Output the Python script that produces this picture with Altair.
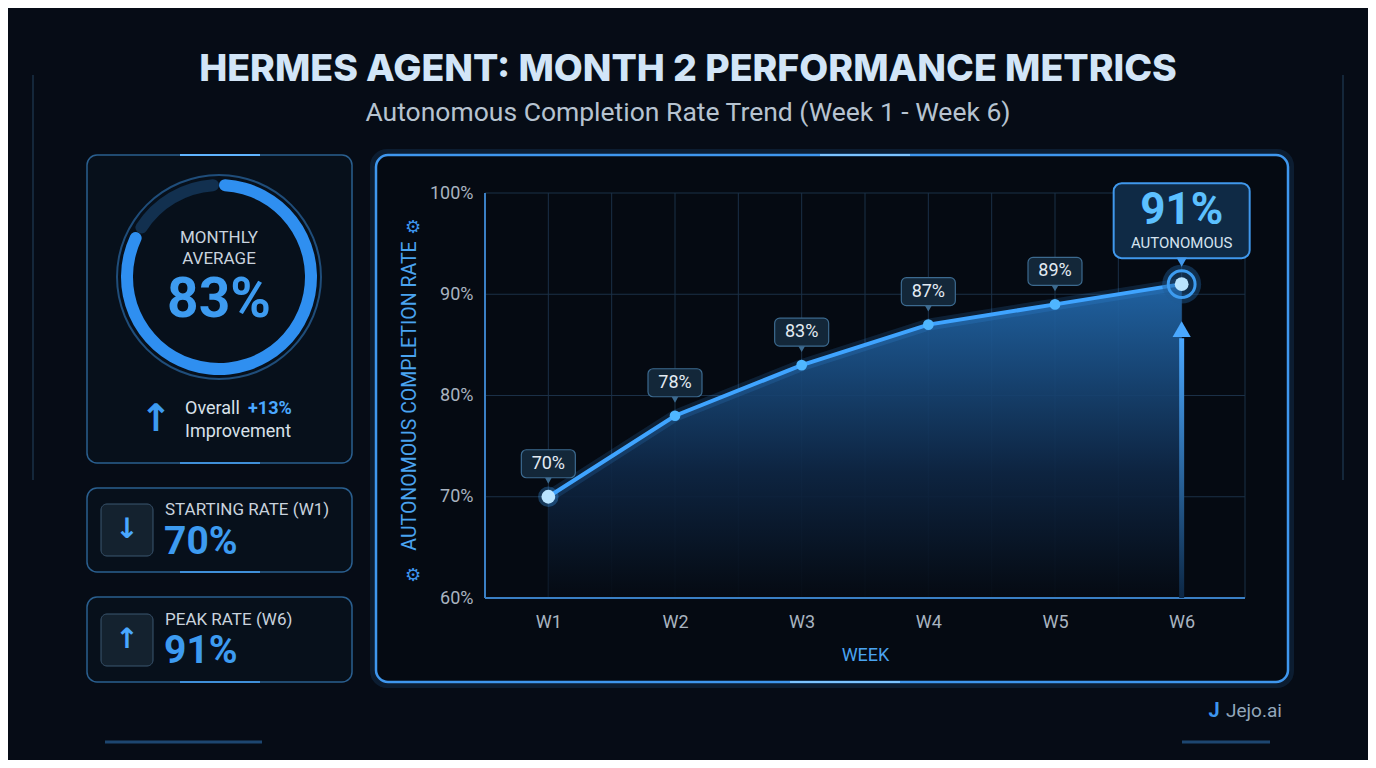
import json
import altair as alt
import pandas as pd


# chart values
weeks = ["W1", "W2", "W3", "W4", "W5", "W6"]
week_idx = [1, 2, 3, 4, 5, 6]
rates = [70, 78, 83, 87, 89, 91]
y_ticks = [60, 70, 80, 90, 100]
x_grid = [0.5, 1, 1.5, 2, 2.5, 3, 3.5, 4, 4.5, 5, 5.5, 6, 6.5]

title_text = "HERMES AGENT: MONTH 2 PERFORMANCE METRICS"
subtitle_text = "Autonomous Completion Rate Trend (Week 1 - Week 6)"

avg = round(sum(rates) / len(rates))
start = rates[0]
peak = max(rates)
gain = avg - start

# plot area geometry (page pixels)
W, H = 760, 405
OX, OY = 485, 193
YU = (y_ticks[-1] - y_ticks[0]) / H   # data units per pixel
XU = (x_grid[-1] - x_grid[0]) / W

BLUE = "#3fa4ff"
TXT = "#c9d4df"


def px(x):
    return x - OX


def py(y):
    return y - OY


one = pd.DataFrame({"k": [0]})
df = pd.DataFrame({"week": weeks, "idx": week_idx, "rate": rates})
df["label"] = df["rate"].astype(str) + "%"
peak_df = df[df["rate"] == peak]
rest_df = df[df["rate"] != peak]
first_df = df[df["idx"] == week_idx[0]]

X_AX = alt.Axis(
    values=x_grid, grid=False, ticks=False, domain=False, zindex=1,
    labelExpr=f"datum.value % 1 === 0 ? {json.dumps(weeks)}[datum.value - 1] : ''",
    labelFont="Roboto", labelFontSize=18, labelColor="#a9b4c0", labelPadding=15,
    title="WEEK", titleFont="Roboto", titleFontSize=18, titleFontWeight="normal",
    titleColor="#4aa3f0", titlePadding=15,
)
Y_AX = alt.Axis(
    values=y_ticks, grid=False, ticks=False, domain=False, zindex=1,
    labelExpr="datum.value + '%'",
    labelFont="Roboto", labelFontSize=18, labelColor="#a9b4c0", labelPadding=12,
    title="AUTONOMOUS COMPLETION RATE", titleFont="Roboto", titleFontSize=19.5,
    titleFontWeight="normal", titleColor="#4aa3f0", titlePadding=10,
)
XS = alt.Scale(domain=[x_grid[0], x_grid[-1]], nice=False, zero=False)
YS = alt.Scale(domain=[y_ticks[0], y_ticks[-1]], nice=False, zero=False)


def xq(field):
    return alt.X(field, type="quantitative", scale=XS, axis=X_AX)


def yq(field):
    return alt.Y(field, type="quantitative", scale=YS, axis=Y_AX)


def panel(x0, y0, x1, y1, stroke, width=1.5, fill="#08111d", radius=10, opacity=1.0):
    return alt.Chart(one).mark_rect(
        fill=fill, stroke=stroke, strokeWidth=width, cornerRadius=radius,
        strokeOpacity=opacity
    ).encode(
        x=alt.value(px(x0)), x2=alt.value(px(x1)),
        y=alt.value(py(y0)), y2=alt.value(py(y1))
    )


def hline(x0, x1, y, color, width):
    return alt.Chart(one).mark_rule(color=color, strokeWidth=width).encode(
        x=alt.value(px(x0)), x2=alt.value(px(x1)), y=alt.value(py(y))
    )


def vline(x, y0, y1, color, width):
    return alt.Chart(one).mark_rule(color=color, strokeWidth=width).encode(
        x=alt.value(px(x)), y=alt.value(py(y0)), y2=alt.value(py(y1))
    )


def label(text, x, y, size, color=TXT, weight="normal", align="center",
          font="Roboto", angle=0):
    return alt.Chart(one).mark_text(
        text=text, fontSize=size, color=color, fontWeight=weight,
        align=align, baseline="middle", font=font, angle=angle
    ).encode(x=alt.value(px(x)), y=alt.value(py(y)))


# ---- background decoration and cards
deco = [
    vline(33, 75, 480, "#14273a", 2),
    vline(1343, 75, 480, "#14273a", 2),
    hline(105, 262, 742, "#1d4670", 3),
    hline(1182, 1270, 742, "#1d4670", 3),
]
main_glow = panel(373, 152, 1291, 685, "#2f7fd0", width=6, fill="#060c16",
                  radius=14, opacity=0.15)
main_card = panel(376, 155, 1288, 682, "#3f97ee", width=2.5, fill="#050a12", radius=12)
card1 = panel(87, 155, 352, 463, "#2a5f8f", fill="#07101b")
card2 = panel(87, 488, 352, 572, "#2a5f8f", fill="#07101b")
card3 = panel(87, 597, 352, 682, "#2a5f8f", fill="#07101b")
icon2 = panel(101, 504, 153, 556, "#3b5670", width=1, fill="#14222f", radius=6)
icon3 = panel(101, 614, 153, 666, "#3b5670", width=1, fill="#14222f", radius=6)
card_glints = [
    hline(180, 260, 155, "#5fb4ff", 2),
    hline(180, 260, 463, "#3f8fd8", 2),
    hline(180, 260, 572, "#3f8fd8", 2),
    hline(180, 260, 682, "#3f8fd8", 2),
    hline(820, 910, 155, "#7cc4ff", 2),
    hline(790, 900, 682, "#7cc4ff", 2),
]

# ---- ring gauge (monthly average)
ring_df = pd.DataFrame({"part": ["avg", "rest"], "v": [avg, 100 - avg],
                        "c": ["#2f8ff0", "#12304f"], "o": [0, 1]})
ring_outer = alt.Chart(one).mark_arc(
    innerRadius=101, outerRadius=103, theta=0, theta2=6.2832, color="#1f4d7a"
).encode(x=alt.value(px(219)), y=alt.value(py(277)))
ring = alt.Chart(ring_df).mark_arc(innerRadius=86, outerRadius=98, cornerRadius=6).encode(
    theta=alt.Theta("v:Q", stack=True),
    order=alt.Order("o:Q"),
    color=alt.Color("c:N", scale=None),
    x=alt.value(px(219)), y=alt.value(py(277)),
)

# ---- grid
vgrid = alt.Chart(pd.DataFrame({"g": x_grid})).mark_rule(color="#1b3047", strokeWidth=1).encode(
    x=xq("g")
)
hgrid = alt.Chart(pd.DataFrame({"g": y_ticks})).mark_rule(color="#1b3047", strokeWidth=1).encode(
    y=yq("g")
)
x_domain = alt.Chart(one).mark_rule(color="#3a7fc4", strokeWidth=2).encode(
    y=alt.datum(y_ticks[0], scale=YS, axis=Y_AX)
)
y_domain = alt.Chart(one).mark_rule(color="#3a7fc4", strokeWidth=2).encode(
    x=alt.datum(x_grid[0], scale=XS, axis=X_AX)
)

# ---- series
area = alt.Chart(df).mark_area(
    color=alt.Gradient(
        gradient="linear", x1=1, x2=1, y1=0, y2=1,
        stops=[alt.GradientStop(color="#2269ad", offset=0),
               alt.GradientStop(color="#0e2644", offset=0.6),
               alt.GradientStop(color="#050a12", offset=1)],
    ),
    opacity=0.92,
).encode(x=xq("idx"), y=yq("rate"), y2=alt.datum(y_ticks[0]))

line_glow = alt.Chart(df).mark_line(color=BLUE, strokeWidth=12, opacity=0.15).encode(
    x=xq("idx"), y=yq("rate")
)
line = alt.Chart(df).mark_line(color=BLUE, strokeWidth=4).encode(
    x=xq("idx"), y=yq("rate")
)

# arrow under the peak
arrow = alt.Chart(peak_df).mark_rect(
    color=alt.Gradient(
        gradient="linear", x1=1, x2=1, y1=0, y2=1,
        stops=[alt.GradientStop(color="#4aa8ff", offset=0),
               alt.GradientStop(color="#0c2744", offset=1)],
    )
).transform_calculate(
    ax0=f"datum.idx - {2.5 * XU}", ax1=f"datum.idx + {2.5 * XU}",
    ay0=f"datum.rate - {54 * YU}", ay1=str(y_ticks[0])
).encode(x=xq("ax0"), x2="ax1:Q", y=yq("ay0"), y2="ay1:Q")
arrow_head = alt.Chart(peak_df).mark_point(
    shape="triangle-up", size=330, filled=True, color="#4aa8ff", opacity=1
).transform_calculate(ah=f"datum.rate - {45 * YU}").encode(x=xq("idx"), y=yq("ah"))

halo = alt.Chart(peak_df).mark_circle(size=1520, color="#1f5a94", opacity=0.45).encode(
    x=xq("idx"), y=yq("rate")
)
halo_ring = alt.Chart(peak_df).mark_point(
    size=720, color="#3d9cf0", strokeWidth=3, filled=False, opacity=1
).encode(x=xq("idx"), y=yq("rate"))
first_halo = alt.Chart(first_df).mark_circle(size=420, color="#3fa4ff", opacity=0.3).encode(
    x=xq("idx"), y=yq("rate")
)
points = alt.Chart(df).mark_circle(size=115, color="#4fb6ff", opacity=1).encode(
    x=xq("idx"), y=yq("rate")
)
bright = alt.Chart(pd.concat([first_df, peak_df])).mark_circle(
    size=190, color="#b9e4ff", opacity=1
).encode(x=xq("idx"), y=yq("rate"))

# value tags
tag_box = alt.Chart(rest_df).mark_rect(
    fill="#132739", stroke="#3c6a8f", strokeWidth=1.2, cornerRadius=5
).transform_calculate(
    bx0=f"datum.idx - {27 * XU}", bx1=f"datum.idx + {27 * XU}",
    by0=f"datum.rate + {19 * YU}", by1=f"datum.rate + {47 * YU}"
).encode(x=xq("bx0"), x2="bx1:Q", y=yq("by0"), y2="by1:Q")
tag_tip = alt.Chart(rest_df).mark_point(
    shape="triangle-down", size=45, filled=True, color="#3c6a8f", opacity=1
).transform_calculate(tt=f"datum.rate + {16 * YU}").encode(x=xq("idx"), y=yq("tt"))
tag_text = alt.Chart(rest_df).mark_text(
    dy=-33, fontSize=18, color="#e3ebf3", font="Roboto"
).encode(x=xq("idx"), y=yq("rate"), text="label:N")

peak_box = alt.Chart(peak_df).mark_rect(
    fill="#0f2a45", stroke="#4098ec", strokeWidth=2, cornerRadius=8
).transform_calculate(
    bx0=f"datum.idx - {68 * XU}", bx1=f"datum.idx + {68 * XU}",
    by0=f"datum.rate + {26 * YU}", by1=f"datum.rate + {101 * YU}"
).encode(x=xq("bx0"), x2="bx1:Q", y=yq("by0"), y2="by1:Q")
peak_tip = alt.Chart(peak_df).mark_point(
    shape="triangle-down", size=110, filled=True, color="#4098ec", opacity=1
).transform_calculate(tt=f"datum.rate + {22 * YU}").encode(x=xq("idx"), y=yq("tt"))
peak_text = alt.Chart(peak_df).mark_text(
    dy=-73, fontSize=44, fontWeight="bold", color="#5cc0ff", font="Roboto"
).encode(x=xq("idx"), y=yq("rate"), text="label:N")
peak_sub = alt.Chart(peak_df).mark_text(
    dy=-41, fontSize=15, color="#d5e3f0", font="Roboto", text="AUTONOMOUS"
).encode(x=xq("idx"), y=yq("rate"))

# ---- texts
texts = [
    label(title_text, 688, 70, 37.5, "#d2e5f7", weight=800, font="Inter"),
    label(subtitle_text, 688, 113, 26.5, "#b6c3d0"),
    label("MONTHLY", 219, 238, 17, "#c9d3de"),
    label("AVERAGE", 219, 259, 17, "#c9d3de"),
    label(f"{avg}%", 219, 300, 55, "#3d9bf0", weight="bold"),
    label("↑", 156, 420, 38, "#3d9bf0", weight="bold", font="DejaVu Sans"),
    label("Overall", 185, 409, 18, "#d8e1ea", align="left"),
    label(f"+{gain}%", 248, 409, 18, "#4aa8ff", weight="bold", align="left"),
    label("Improvement", 185, 432, 18, "#d8e1ea", align="left"),
    label("↓", 127, 530, 28, "#4aa8ff", weight="bold", font="DejaVu Sans"),
    label(f"STARTING RATE ({weeks[0]})", 165, 510, 17, "#c9d3de", align="left"),
    label(f"{start}%", 164, 542, 39, "#3d9bf0", weight="bold", align="left"),
    label("↑", 127, 640, 28, "#4aa8ff", weight="bold", font="DejaVu Sans"),
    label(f"PEAK RATE ({weeks[rates.index(peak)]})", 165, 620, 17, "#c9d3de", align="left"),
    label(f"{peak}%", 164, 651, 39, "#3d9bf0", weight="bold", align="left"),
    label("⚙", 413, 228, 18, "#3d95ee", font="DejaVu Sans"),
    label("⚙", 413, 576, 18, "#3d95ee", font="DejaVu Sans"),
    label("J", 1214, 711, 20, "#3d95ee", weight="bold"),
    label("Jejo.ai", 1226, 711, 19, "#93a7ba", align="left"),
]

chart = alt.layer(
    *deco, main_glow, main_card, card1, card2, card3, icon2, icon3, *card_glints,
    ring_outer, ring,
    vgrid, hgrid, area, x_domain, y_domain,
    line_glow, line, arrow, halo, first_halo, halo_ring, points, bright, arrow_head,
    tag_box, tag_tip, tag_text, peak_box, peak_tip, peak_text, peak_sub,
    *texts,
).properties(
    width=W, height=H,
    autosize=alt.AutoSizeParams(type="none"),
    padding={"left": OX - 8, "top": OY - 8, "right": 1360 - (OX - 8) - W,
             "bottom": 752 - (OY - 8) - H},
).configure(
    background="#060c16"
).configure_view(
    stroke=None
)

chart.save("out.html", embed_options={"renderer": "svg", "actions": False})
